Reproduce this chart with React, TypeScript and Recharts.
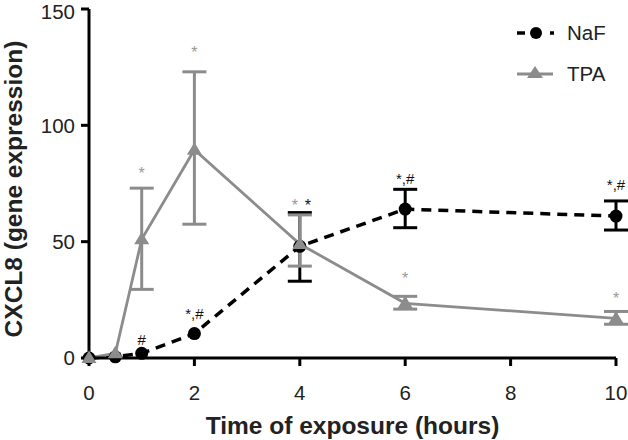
import React from 'react';
import { ComposedChart, Line, XAxis, YAxis, ErrorBar, Label } from 'recharts';

// time points (hours)
const hours = [0, 0.5, 1, 2, 4, 6, 10];

// NaF: mean and SD range
const nafMean = [0, 0.5, 2, 10.5, 48, 64, 61];
const nafLow = [0, 0.5, 2, 10.5, 33, 56, 55];
const nafHigh = [0, 0.5, 2, 10.5, 62.5, 72.5, 67.5];

// TPA: mean and SD range
const tpaMean = [0, 2, 51, 89.5, 49, 23.5, 17];
const tpaLow = [0, 2, 29.5, 57.5, 39.5, 21, 14.5];
const tpaHigh = [0, 2, 73, 123, 61.5, 26.5, 20];

// significance marks and the level they sit at
const nafNotes = ['', '', '#', '*,#', '*', '*,#', '*,#'];
const nafNoteLevel = [null, null, 8, 19.5, 67, 77.5, 75];
const tpaNotes = ['', '', '*', '*', '*', '*', '*'];
const tpaNoteLevel = [null, null, 81, 133, 67, 35.5, 27];

const xTicks = [0, 2, 4, 6, 8, 10];
const yTicks = [0, 50, 100, 150];

const BLACK = '#000';
const GREY = '#8c8c8c';
const FONT = '"Liberation Sans", Arial, Helvetica, sans-serif';

const toSeries = (mean: number[], low: number[], high: number[]) =>
  hours.map((x, i) => ({
    x,
    y: mean[i],
    err: high[i] > low[i] ? [mean[i] - low[i], high[i] - mean[i]] : undefined,
  }));

const nafData = toSeries(nafMean, nafLow, nafHigh);
const tpaData = toSeries(tpaMean, tpaLow, tpaHigh);

const toNotes = (notes: string[], levels: (number | null)[], otherLevels: (number | null)[], side: number) =>
  hours
    .map((x, i) => ({
      x,
      level: levels[i],
      note: notes[i],
      // two marks sharing one spot are pushed apart
      shift: otherLevels[i] != null && levels[i] != null && Math.abs((otherLevels[i] as number) - (levels[i] as number)) < 5 ? side : 0,
    }))
    .filter((d) => d.note);

const nafNoteData = toNotes(nafNotes, nafNoteLevel, tpaNoteLevel, 8);
const tpaNoteData = toNotes(tpaNotes, tpaNoteLevel, nafNoteLevel, -5);

const circleDot = (p: any) => {
  if (p.cx == null || p.cy == null) return <g key={`c-${p.index}`} />;
  return <circle key={`c-${p.index}`} cx={p.cx} cy={p.cy} r={6.5} fill={BLACK} />;
};

const triangleDot = (p: any) => {
  if (p.cx == null || p.cy == null) return <g key={`t-${p.index}`} />;
  const { cx, cy } = p;
  return (
    <path
      key={`t-${p.index}`}
      d={`M${cx},${cy - 7.5} L${cx + 7.5},${cy + 5} L${cx - 7.5},${cy + 5} Z`}
      fill={GREY}
    />
  );
};

const noteDot = (color: string) => (p: any) => {
  if (p.cx == null || p.cy == null) return <g key={`n-${p.index}`} />;
  const note = p.payload.note as string;
  const star = note === '*';
  return (
    <text
      key={`n-${p.index}`}
      x={p.cx + p.payload.shift}
      y={p.cy + (star ? 9 : 6)}
      textAnchor="middle"
      fill={color}
      fontSize={star ? 16 : 15}
      fontFamily={FONT}
    >
      {note}
    </text>
  );
};

function LegendOverlay() {
  return (
    <svg width={120} height={90} style={{ position: 'absolute', left: 510, top: 10 }}>
      <g>
        <line x1={7} y1={23} x2={15} y2={23} stroke={BLACK} strokeWidth={3.5} />
        <circle cx={26} cy={23} r={6} fill={BLACK} />
        <line x1={40} y1={23} x2={44} y2={23} stroke={BLACK} strokeWidth={3.5} />
        <text x={57} y={30} fontSize={20.5} fontFamily={FONT} fill="#222">NaF</text>
      </g>
      <g>
        <line x1={7} y1={64} x2={43} y2={64} stroke={GREY} strokeWidth={3} />
        <path d="M25,56 L33,68 L17,68 Z" fill={GREY} />
        <text x={57} y={71} fontSize={20.5} fontFamily={FONT} fill="#222">TPA</text>
      </g>
    </svg>
  );
}

export default function App() {
  const tickStyle = { fontSize: 20.5, fill: '#222', fontFamily: FONT };
  const axisStroke = { stroke: BLACK, strokeWidth: 3 };
  return (
    <div style={{ position: 'absolute', left: 0, top: 0, width: 628, height: 440, background: '#fff' }}>
      <ComposedChart width={628} height={440} margin={{ top: 9, right: 12, bottom: 0, left: 0 }}>
        <XAxis
          type="number"
          dataKey="x"
          domain={[0, 10]}
          ticks={xTicks}
          tick={tickStyle}
          axisLine={axisStroke}
          tickLine={axisStroke}
          tickSize={8}
          tickMargin={19}
          height={82}
        >
          <Label
            content={(props: any) => {
              const vb = props.viewBox || { x: 89, width: 527 };
              return (
                <text x={vb.x + vb.width / 2} y={434} textAnchor="middle" fontSize={24.5} fontWeight="bold" fontFamily={FONT} fill="#222">
                  Time of exposure (hours)
                </text>
              );
            }}
          />
        </XAxis>
        <YAxis
          type="number"
          domain={[0, 150]}
          ticks={yTicks}
          tick={tickStyle}
          axisLine={axisStroke}
          tickLine={axisStroke}
          tickSize={8}
          tickMargin={6}
          width={89}
        >
          <Label
            content={() => (
              <text transform="translate(22,189) rotate(-90)" textAnchor="middle" fontSize={24.5} fontWeight="bold" fontFamily={FONT} fill="#222">
                CXCL8 (gene expression)
              </text>
            )}
          />
        </YAxis>
        <Line
          data={nafData}
          dataKey="y"
          stroke={BLACK}
          strokeWidth={3.5}
          strokeDasharray="10 7"
          dot={circleDot}
          activeDot={false}
          isAnimationActive={false}
          legendType="none"
        >
          <ErrorBar dataKey="err" direction="y" width={12} strokeWidth={3} stroke={BLACK} />
        </Line>
        <Line
          data={tpaData}
          dataKey="y"
          stroke={GREY}
          strokeWidth={2.8}
          dot={triangleDot}
          activeDot={false}
          isAnimationActive={false}
          legendType="none"
        >
          <ErrorBar dataKey="err" direction="y" width={12} strokeWidth={3} stroke={GREY} />
        </Line>
        <Line
          data={nafNoteData}
          dataKey="level"
          stroke="none"
          dot={noteDot('#111')}
          activeDot={false}
          isAnimationActive={false}
          legendType="none"
        />
        <Line
          data={tpaNoteData}
          dataKey="level"
          stroke="none"
          dot={noteDot('#999')}
          activeDot={false}
          isAnimationActive={false}
          legendType="none"
        />
      </ComposedChart>
      <LegendOverlay />
    </div>
  );
}
